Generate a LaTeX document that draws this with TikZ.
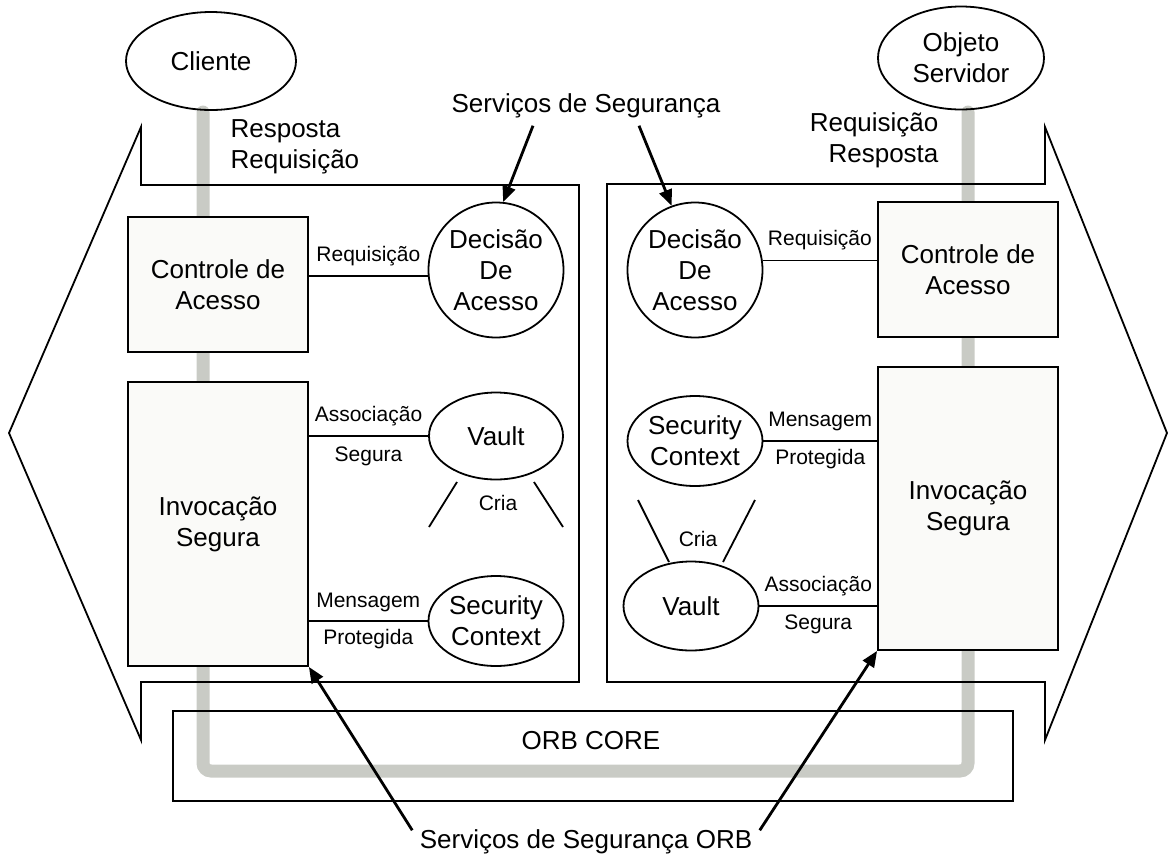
\documentclass[tikz,border=0pt]{standalone}
\usepackage{fontspec}
\setmainfont{Liberation Sans}
\usetikzlibrary{arrows.meta,shapes.geometric,calc}
\definecolor{boxfill}{RGB}{250,250,248}
\definecolor{busgray}{RGB}{201,203,197}
\newcommand{\bigtxt}{\fontsize{13}{15.5}\selectfont}
\newcommand{\smalltxt}{\fontsize{10.5}{12.5}\selectfont}

\begin{document}
\begin{tikzpicture}[x=0.5pt,y=-0.5pt,line width=0.9pt,
  box/.style={draw,fill=boxfill,inner sep=0pt,minimum width=90pt,align=center,font=\bigtxt},
  oval/.style={draw,ellipse,inner sep=0pt,align=center,font=\bigtxt},
  decision/.style={draw,circle,inner sep=0pt,minimum size=67.5pt,align=center,font=\bigtxt},
  lbl/.style={font=\smalltxt,midway},
  arr/.style={line width=1.4pt,-{Triangle[length=8pt,width=6.5pt]}},
  bus/.style={busgray,line width=6.5pt,rounded corners=4pt,line cap=round}]
\useasboundingbox (0,0) rectangle (1175,858);
% Request path through the ORB
\draw[bus] (203,112) -- (203,771) -- (968,771) -- (968,112);
% Security callouts
\draw (141,127) -- (141,185) -- (579,185) -- (579,682) -- (141,682) -- (141,740) -- (9,433) -- cycle;
\draw (1045,127) -- (1045,184) -- (607,184) -- (607,682) -- (1045,682) -- (1045,740) -- (1167,433) -- cycle;
% ORB core
\draw (173,711) rectangle (1013,801);
\node[font=\bigtxt] (orbtxt) at (591,741) {ORB CORE};
% Endpoints
\node[oval,minimum width=85pt,minimum height=49pt] (cli) at (211,61) {Cliente};
\node[oval,minimum width=83pt,minimum height=51.5pt] (obj) at (961,58) {Objeto\\Servidor};
\node[font=\bigtxt,align=left,anchor=west] (flow1) at (223,147) {Resposta\\Requisição};
\node[font=\bigtxt,align=right,anchor=east] (flow2) at (946,140) {Requisição\\Resposta};
% Client side
\node[box,minimum height=67.5pt] (ctl1) at (218,284.5) {Controle de\\Acesso};
\node[box,minimum height=142pt] (inv1) at (218,524) {Invocação\\Segura};
\node[decision] (dec1) at (496,270) {Decisão\\De\\Acesso};
\node[oval,minimum width=67pt,minimum height=43.5pt] (vlt1) at (496,436) {Vault};
\node[oval,minimum width=67.5pt,minimum height=45pt] (sec1) at (496,621) {Security\\Context};
\draw (dec1.185) -- (dec1.185 -| ctl1.east) node[lbl,yshift=10pt]{Requisição};
\draw (vlt1.west) -- (vlt1.west -| inv1.east) node[lbl,yshift=10pt]{Associação} node[lbl,yshift=-10pt]{Segura};
\draw (sec1.west) -- (sec1.west -| inv1.east) node[lbl,yshift=9.5pt]{Mensagem} node[lbl,yshift=-9pt]{Protegida};
\draw (457,482) -- (429,527);
\draw (534,482) -- (563,527);
\node[font=\smalltxt] (cria1) at (498,503) {Cria};
% Server side
\node[box,minimum height=67.5pt] (ctl2) at (968,269.5) {Controle de\\Acesso};
\node[box,minimum height=141.5pt] (inv2) at (968,508.5) {Invocação\\Segura};
\node[decision] (dec2) at (695,270) {Decisão\\De\\Acesso};
\node[oval,minimum width=67.5pt,minimum height=45pt] (sec2) at (695,441) {Security\\Context};
\node[oval,minimum width=67.5pt,minimum height=44.5pt] (vlt2) at (691,606) {Vault};
\draw (dec2.8) -- (dec2.8 -| ctl2.west) node[lbl,yshift=10pt]{Requisição};
\draw (sec2.east) -- (sec2.east -| inv2.west) node[lbl,yshift=10pt]{Mensagem} node[lbl,yshift=-9pt]{Protegida};
\draw (vlt2.east) -- (vlt2.east -| inv2.west) node[lbl,yshift=10pt]{Associação} node[lbl,yshift=-9pt]{Segura};
\draw (638,500) -- (669,562);
\draw (755,500) -- (723,562);
\node[font=\smalltxt] (cria2) at (698,539) {Cria};
% Security service pointers
\node[font=\bigtxt] (sss) at (586,106) {Serviços de Segurança};
\draw[arr] ($(sss.south)+(-53,0)$) -- (dec1.84);
\draw[arr] ($(sss.south)+(53,0)$) -- (dec2.110);
\node[font=\bigtxt] (sso) at (586,842) {Serviços de Segurança ORB};
\draw[arr] ($(sso.north west)+(0,8)$) -- (inv1.south east);
\draw[arr] ($(sso.north east)+(0,8)$) -- (inv2.south west);
\end{tikzpicture}
\end{document}
